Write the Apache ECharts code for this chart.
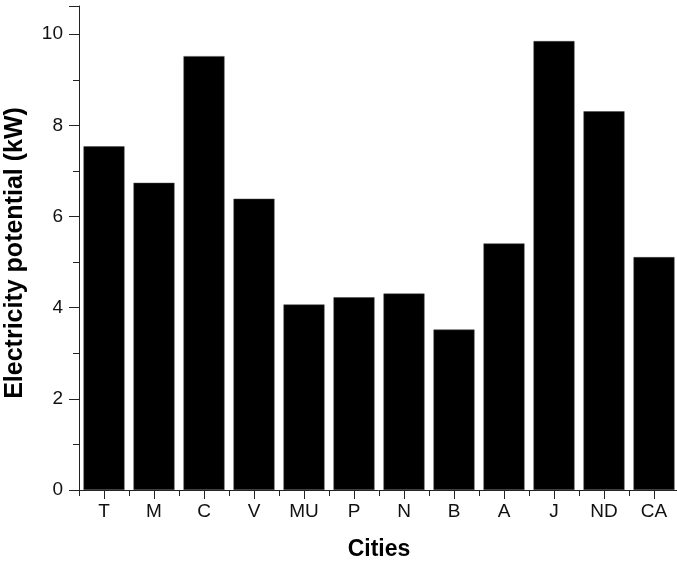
<!DOCTYPE html>
<html>
<head>
<meta charset="utf-8">
<script src="https://cdn.jsdelivr.net/npm/echarts@6/dist/echarts.min.js"></script>
<style>
html,body{margin:0;padding:0;background:#fff;}
#chart{width:677px;height:566px;}
</style>
</head>
<body>
<div id="chart"></div>
<script>
const categories = ['T','M','C','V','MU','P','N','B','A','J','ND','CA'];
const values = [7.54, 6.74, 9.52, 6.39, 4.07, 4.23, 4.31, 3.52, 5.41, 9.85, 8.31, 5.11];
const yTicks = [0, 2, 4, 6, 8, 10];

const chart = echarts.init(document.getElementById('chart'), null, {renderer:'canvas'});
const axisColor = '#222';
const font = 'Liberation Sans, Arial, sans-serif';
chart.setOption({
  animation: false,
  backgroundColor: '#fff',
  grid: {left: 79, right: -2, top: 6, bottom: 76, containLabel: false, outerBoundsMode: 'none'},
  xAxis: [{
    type: 'category',
    data: categories,
    position: 'bottom',
    name: 'Cities',
    nameLocation: 'middle',
    nameGap: 48,
    nameTextStyle: {fontFamily: font, fontWeight: 'bold', fontSize: 23, color: '#000'},
    axisLine: {show: true, lineStyle: {color: axisColor, width: 1}},
    axisTick: {show: true, alignWithLabel: true, length: 9, lineStyle: {color: axisColor}},
    axisLabel: {margin: 12, fontFamily: font, fontSize: 19, color: '#111'},
    splitLine: {show: false}
  }, {
    type: 'category',
    data: categories,
    position: 'bottom',
    axisLine: {show: false},
    axisTick: {show: true, length: 6, lineStyle: {color: axisColor}},
    axisLabel: {show: false},
    splitLine: {show: false}
  }],
  yAxis: {
    type: 'value',
    min: 0,
    max: 10.62,
    interval: 2,
    name: 'Electricity potential (kW)',
    nameLocation: 'middle',
    nameGap: 51,
    nameTextStyle: {fontFamily: font, fontWeight: 'bold', fontSize: 25, color: '#000', padding: [0, 10, 0, 0]},
    axisLine: {show: true, lineStyle: {color: axisColor, width: 1}},
    axisTick: {show: true, length: 10, lineStyle: {color: axisColor}},
    minorTick: {show: true, splitNumber: 2, length: 6, lineStyle: {color: axisColor}},
    axisLabel: {margin: 16, fontFamily: font, fontSize: 19, color: '#111',
      formatter: v => yTicks.includes(v) ? String(v) : ''},
    splitLine: {show: false},
    minorSplitLine: {show: false}
  },
  series: [{
    type: 'bar',
    data: values,
    xAxisIndex: 0,
    barWidth: 41,
    itemStyle: {color: '#000', borderColor: '#444', borderWidth: 0.5}
  }]
});
</script>
</body>
</html>
